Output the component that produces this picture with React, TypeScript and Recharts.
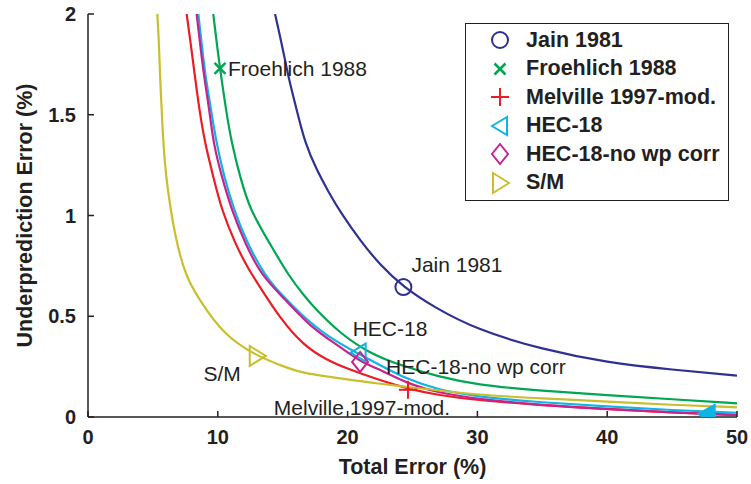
import { ComposedChart, Line, Scatter, XAxis, YAxis, Label } from 'recharts';

const FONT = '"Liberation Sans", Arial, Helvetica, sans-serif';
const INK = '#231f20';

const X_TICKS = [0, 10, 20, 30, 40, 50];
const Y_TICKS = [0, 0.5, 1, 1.5, 2];

// curves: total error (%) vs underprediction error (%)
const JAIN_X = [14.41, 14.92, 15.43, 16.08, 16.72, 17.62, 18.5, 19.5, 20.95, 22.5, 24.3, 26.6, 30, 35, 40, 45, 50];
const JAIN_Y = [2.0, 1.855, 1.689, 1.524, 1.358, 1.226, 1.12, 1.01, 0.878, 0.754, 0.645, 0.547, 0.432, 0.335, 0.27, 0.235, 0.205];

const FROEHLICH_X = [9.65, 9.92, 10.17, 10.63, 11.07, 11.71, 12.48, 14.0, 15.5, 16.72, 17.36, 19.4, 21.7, 24.0, 27, 30, 35, 40, 45, 50];
const FROEHLICH_Y = [2.0, 1.855, 1.73, 1.524, 1.358, 1.193, 1.027, 0.862, 0.696, 0.597, 0.547, 0.415, 0.316, 0.258, 0.2, 0.159, 0.13, 0.109, 0.088, 0.068];

const MELVILLE_X = [7.6, 7.91, 8.24, 8.58, 9.01, 9.65, 10.3, 11.33, 12.3, 13.25, 14.8, 16.6, 18.4, 19.9, 22, 24.65, 27, 30, 35, 40, 45, 50];
const MELVILLE_Y = [2.0, 1.855, 1.689, 1.524, 1.358, 1.193, 1.027, 0.862, 0.74, 0.645, 0.49, 0.355, 0.283, 0.242, 0.193, 0.14, 0.108, 0.084, 0.058, 0.04, 0.022, 0.01];

const HEC18_X = [8.5, 8.75, 9.05, 9.48, 9.9, 10.48, 11.25, 12.27, 13.64, 14.8, 16.3, 18.4, 21, 22, 24.55, 27, 30, 35, 40, 45, 50];
const HEC18_Y = [2.0, 1.855, 1.689, 1.524, 1.358, 1.193, 1.027, 0.862, 0.7, 0.615, 0.515, 0.4, 0.308, 0.275, 0.187, 0.135, 0.1, 0.072, 0.052, 0.034, 0.021];

const HEC18NW_X = [8.37, 8.63, 8.94, 9.35, 9.66, 10.3, 11.07, 12.1, 13.38, 15.0, 17.1, 19.4, 21, 22, 24.55, 27, 30, 35, 40, 45, 50];
const HEC18NW_Y = [2.0, 1.855, 1.689, 1.524, 1.358, 1.193, 1.027, 0.862, 0.7, 0.597, 0.448, 0.349, 0.275, 0.25, 0.167, 0.12, 0.089, 0.058, 0.038, 0.022, 0.01];

const SM_X = [5.34, 5.47, 5.55, 5.68, 5.8, 6.01, 6.37, 6.83, 7.55, 8.5, 10.4, 13.0, 14.8, 16.3, 19.4, 22, 24.55, 30, 35, 40, 45, 50];
const SM_Y = [2.0, 1.855, 1.689, 1.524, 1.358, 1.193, 1.027, 0.862, 0.696, 0.59, 0.41, 0.303, 0.258, 0.22, 0.192, 0.168, 0.15, 0.109, 0.092, 0.077, 0.06, 0.048];

const SERIES_NAMES = ['Jain 1981', 'Froehlich 1988', 'Melville 1997-mod.', 'HEC-18', 'HEC-18-no wp corr', 'S/M'];
const MARKER_X = [24.3, 10.17, 24.65, 20.85, 20.96, 13.0];
const MARKER_Y = [0.645, 1.73, 0.135, 0.32, 0.273, 0.303];

// extra filled HEC-18 marker near the right edge
const END_MARK_X = [47.7];
const END_MARK_Y = [0.015];

const COLORS = ['#2e3192', '#00a651', '#ed1c24', '#10b4e4', '#c7238f', '#c9bf2e'];
const MARKERS = ['circle', 'x', 'plus', 'triLeft', 'diamond', 'triRight'];

// label offsets relative to each marker: [dx, dy, anchor]
const LABEL_POS: Array<[number, number, 'start' | 'middle' | 'end']> = [
  [8, -15, 'start'],
  [8, 8, 'start'],
  [-46, 25, 'middle'],
  [-6, -17, 'start'],
  [26, 12, 'start'],
  [-16, 25, 'end'],
];

const toPoints = (xs: number[], ys: number[]) => xs.map((x, i) => ({ x, y: ys[i] }));

const CURVES = [
  toPoints(JAIN_X, JAIN_Y),
  toPoints(FROEHLICH_X, FROEHLICH_Y),
  toPoints(MELVILLE_X, MELVILLE_Y),
  toPoints(HEC18_X, HEC18_Y),
  toPoints(HEC18NW_X, HEC18NW_Y),
  toPoints(SM_X, SM_Y),
];

function MarkerGlyph({ kind, cx, cy, color }: any) {
  const sw = 2;
  switch (kind) {
    case 'circle':
      return <circle cx={cx} cy={cy} r={8} fill="none" stroke={color} strokeWidth={sw} />;
    case 'x':
      return (
        <g stroke={color} strokeWidth={sw + 0.5}>
          <line x1={cx - 5.5} y1={cy - 5.5} x2={cx + 5.5} y2={cy + 5.5} />
          <line x1={cx - 5.5} y1={cy + 5.5} x2={cx + 5.5} y2={cy - 5.5} />
        </g>
      );
    case 'plus':
      return (
        <g stroke={color} strokeWidth={sw}>
          <line x1={cx - 9} y1={cy} x2={cx + 9} y2={cy} />
          <line x1={cx} y1={cy - 9} x2={cx} y2={cy + 9} />
        </g>
      );
    case 'triLeft':
      return (
        <polygon
          points={`${cx - 8},${cy} ${cx + 7},${cy - 9} ${cx + 7},${cy + 9}`}
          fill="none"
          stroke={color}
          strokeWidth={sw}
        />
      );
    case 'diamond':
      return (
        <polygon
          points={`${cx},${cy - 10} ${cx + 8},${cy} ${cx},${cy + 10} ${cx - 8},${cy}`}
          fill="none"
          stroke={color}
          strokeWidth={sw}
        />
      );
    case 'triRight':
      return (
        <polygon
          points={`${cx + 9},${cy} ${cx - 7},${cy - 10} ${cx - 7},${cy + 10}`}
          fill="none"
          stroke={color}
          strokeWidth={sw}
        />
      );
    default:
      return null;
  }
}

const makeShape = (i: number) => (props: any) => {
  const { cx, cy } = props;
  const [dx, dy, anchor] = LABEL_POS[i];
  return (
    <g>
      <MarkerGlyph kind={MARKERS[i]} cx={cx} cy={cy} color={COLORS[i]} />
      <text x={cx + dx} y={cy + dy} textAnchor={anchor} fontFamily={FONT} fontSize={21} fill={INK}>
        {SERIES_NAMES[i]}
      </text>
    </g>
  );
};

const endShape = (props: any) => {
  const { cx, cy } = props;
  return (
    <polygon
      points={`${cx - 10},${cy} ${cx + 8},${cy - 10} ${cx + 8},${cy + 11}`}
      fill={COLORS[3]}
      stroke={COLORS[3]}
      strokeWidth={1}
    />
  );
};

const tickStyle = { fill: INK, fontSize: 20, fontWeight: 700, fontFamily: FONT };

function ChartLegend() {
  return (
    <div
      style={{
        position: 'absolute',
        left: 465,
        top: 23,
        width: 264,
        height: 178,
        boxSizing: 'border-box',
        border: `1.5px solid ${INK}`,
        background: '#fff',
        fontFamily: FONT,
      }}
    >
      {SERIES_NAMES.map((name, i) => (
        <div
          key={name}
          style={{
            position: 'absolute',
            left: 0,
            top: 2 + i * 28.5,
            height: 28.5,
            width: '100%',
            display: 'flex',
            alignItems: 'center',
          }}
        >
          <svg width={24} height={24} style={{ position: 'absolute', left: 21.5, top: 2.25 }}>
            <MarkerGlyph kind={MARKERS[i]} cx={12} cy={12} color={COLORS[i]} />
          </svg>
          <span
            style={{
              position: 'absolute',
              left: 60,
              fontSize: 21.5,
              fontWeight: 700,
              color: INK,
              whiteSpace: 'nowrap',
            }}
          >
            {name}
          </span>
        </div>
      ))}
    </div>
  );
}

export default function App() {
  return (
    <div style={{ position: 'absolute', left: 0, top: 0, width: 751, height: 484, background: '#fff' }}>
      <ComposedChart width={751} height={484} margin={{ top: 14, right: 14, left: 0, bottom: 17 }}>
        <XAxis
          type="number"
          dataKey="x"
          domain={[0, 50]}
          ticks={X_TICKS}
          allowDataOverflow
          height={50}
          tickSize={-6}
          tickMargin={19}
          stroke={INK}
          strokeWidth={1.5}
          tick={tickStyle}
        >
          <Label
            content={(p: any) => {
              const vb = p.viewBox || { x: 88, width: 649 };
              return (
                <text
                  x={vb.x + vb.width / 2}
                  y={474}
                  textAnchor="middle"
                  fontFamily={FONT}
                  fontSize={21.5}
                  fontWeight={700}
                  fill={INK}
                >
                  Total Error (%)
                </text>
              );
            }}
          />
        </XAxis>
        <XAxis
          xAxisId="top"
          orientation="top"
          type="number"
          domain={[0, 50]}
          ticks={X_TICKS}
          allowDataOverflow
          height={0}
          tickSize={-6}
          tick={false}
          stroke={INK}
          strokeWidth={1.5}
        />
        <YAxis
          type="number"
          dataKey="y"
          domain={[0, 2]}
          ticks={Y_TICKS}
          allowDataOverflow
          width={88}
          tickSize={-6}
          tickMargin={18}
          stroke={INK}
          strokeWidth={1.5}
          tick={tickStyle}
        >
          <Label
            content={(p: any) => {
              const vb = p.viewBox || { y: 14, height: 403 };
              const cy = vb.y + vb.height / 2;
              return (
                <text
                  x={32}
                  y={cy}
                  textAnchor="middle"
                  transform={`rotate(-90, 32, ${cy})`}
                  fontFamily={FONT}
                  fontSize={21.5}
                  fontWeight={700}
                  fill={INK}
                >
                  Underprediction Error (%)
                </text>
              );
            }}
          />
        </YAxis>
        <YAxis
          yAxisId="right"
          orientation="right"
          type="number"
          domain={[0, 2]}
          ticks={Y_TICKS}
          allowDataOverflow
          width={0}
          tickSize={-6}
          tick={false}
          stroke={INK}
          strokeWidth={1.5}
        />
        {CURVES.map((pts, i) => (
          <Line
            key={SERIES_NAMES[i]}
            data={pts}
            dataKey="y"
            type="basis"
            stroke={COLORS[i]}
            strokeWidth={2.2}
            strokeLinejoin="round"
            dot={false}
            activeDot={false}
            isAnimationActive={false}
          />
        ))}
        {SERIES_NAMES.map((name, i) => (
          <Scatter
            key={'m-' + name}
            data={[{ x: MARKER_X[i], y: MARKER_Y[i] }]}
            dataKey="y"
            shape={makeShape(i)}
            isAnimationActive={false}
          />
        ))}
        <Scatter
          data={toPoints(END_MARK_X, END_MARK_Y)}
          dataKey="y"
          shape={endShape}
          isAnimationActive={false}
        />
      </ComposedChart>
      <ChartLegend />
    </div>
  );
}
